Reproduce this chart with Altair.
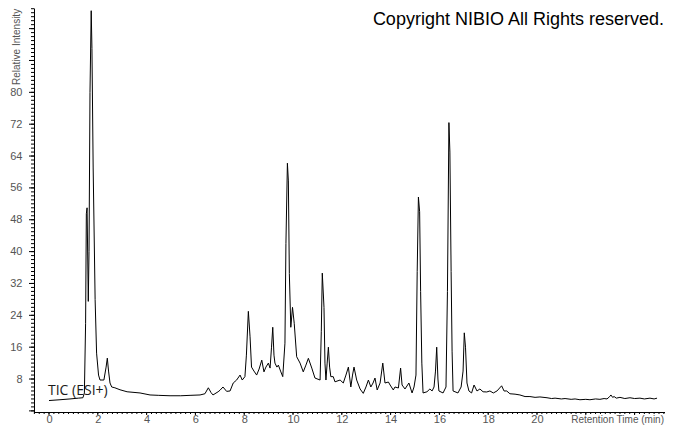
import altair as alt
import pandas as pd

# Retention time (min) and relative intensity
rt_min = [
    0.00, 0.45, 0.86, 1.20, 1.39, 1.45, 1.50, 1.53, 1.56, 1.61,
    1.64, 1.68, 1.73, 1.76, 1.81, 1.89, 1.95, 2.03, 2.09, 2.25,
    2.34, 2.39, 2.44, 2.50, 2.57, 2.70, 2.91, 3.20, 3.73, 4.14,
    4.50, 4.96, 5.40, 5.78, 6.19, 6.39, 6.53, 6.64, 6.72, 6.93,
    7.01, 7.13, 7.28, 7.42, 7.55, 7.69, 7.83, 7.92, 8.03, 8.09,
    8.17, 8.24, 8.30, 8.40, 8.51, 8.61, 8.72, 8.81, 8.89, 8.99,
    9.06, 9.12, 9.17, 9.22, 9.26, 9.34, 9.40, 9.49, 9.58, 9.67,
    9.71, 9.77, 9.81, 9.85, 9.91, 9.98, 10.05, 10.15, 10.29, 10.42,
    10.53, 10.63, 10.77, 10.90, 11.11, 11.16, 11.20, 11.27, 11.31, 11.35,
    11.40, 11.45, 11.50, 11.55, 11.65, 11.72, 11.93, 12.06, 12.17, 12.27,
    12.37, 12.44, 12.50, 12.61, 12.75, 12.88, 12.99, 13.09, 13.19, 13.28,
    13.36, 13.45, 13.57, 13.68, 13.77, 13.91, 13.98, 14.11, 14.18, 14.32,
    14.41, 14.47, 14.59, 14.75, 14.88, 14.96, 15.04, 15.09, 15.14, 15.19,
    15.23, 15.28, 15.33, 15.49, 15.61, 15.70, 15.78, 15.84, 15.89, 15.94,
    15.98, 16.15, 16.27, 16.33, 16.39, 16.43, 16.48, 16.52, 16.56, 16.76,
    16.89, 16.97, 17.02, 17.07, 17.13, 17.21, 17.32, 17.42, 17.54, 17.66,
    17.79, 17.94, 18.07, 18.21, 18.36, 18.55, 18.65, 18.76, 18.89, 19.10,
    19.30, 19.51, 19.71, 19.92, 20.12, 20.41, 20.60, 20.74, 21.00, 21.15,
    21.40, 21.56, 21.76, 22.00, 22.17, 22.40, 22.58, 22.75, 22.87, 22.98,
    23.03, 23.10, 23.16, 23.25, 23.40, 23.60, 23.81, 24.00, 24.22, 24.40,
    24.63, 24.80, 24.92,
]
intensity = [
    2.6, 2.8, 3.0, 3.2, 3.3, 4.5, 22.0, 49.5, 51.0, 27.5,
    40.0, 80.0, 100.5, 91.0, 61.0, 28.0, 14.5, 9.0, 7.75, 7.75,
    11.0, 13.25, 10.0, 7.0, 6.0, 5.8, 5.3, 4.8, 4.5, 4.0,
    3.9, 3.8, 3.8, 3.9, 4.0, 4.3, 5.8, 4.6, 4.0, 4.8,
    5.2, 6.0, 4.9, 5.0, 7.0, 7.75, 9.0, 7.75, 8.6, 14.0,
    25.0, 18.6, 11.0, 10.0, 9.0, 10.5, 12.75, 9.8, 11.0, 12.0,
    10.75, 16.0, 21.0, 14.0, 12.0, 11.0, 11.5, 10.0, 8.6, 17.0,
    42.0, 62.2, 57.75, 34.5, 21.0, 26.0, 22.0, 13.6, 12.0, 9.8,
    11.5, 13.2, 10.75, 8.25, 7.75, 20.0, 34.6, 26.0, 12.0, 7.75,
    12.0, 16.0, 11.0, 8.6, 8.6, 7.3, 7.75, 7.0, 9.0, 11.0,
    6.0, 9.0, 11.0, 7.75, 5.5, 4.4, 6.0, 7.75, 6.0, 7.0,
    8.25, 5.25, 7.0, 12.0, 7.0, 7.25, 6.5, 5.25, 6.0, 5.75,
    10.75, 6.5, 5.5, 7.0, 4.5, 6.0, 9.0, 35.0, 53.7, 50.0,
    30.0, 12.0, 4.5, 4.8, 5.5, 5.0, 6.0, 10.0, 16.0, 8.0,
    5.0, 4.5, 6.0, 30.0, 72.4, 65.0, 35.0, 15.0, 5.0, 4.5,
    6.0, 10.0, 19.6, 16.0, 7.0, 5.0, 4.5, 6.5, 5.0, 5.5,
    4.8, 4.75, 5.0, 4.5, 5.0, 6.3, 5.0, 5.0, 4.3, 4.2,
    4.0, 3.6, 3.6, 3.4, 3.5, 3.3, 3.1, 3.2, 3.0, 3.1,
    2.9, 3.0, 2.8, 2.9, 2.8, 3.0, 2.9, 3.1, 3.0, 3.6,
    4.0, 3.4, 3.6, 3.2, 3.4, 3.1, 3.3, 3.1, 3.2, 3.0,
    3.2, 3.0, 3.2,
]

# Axis labels and tick positions
x_labels = list(range(0, 21, 2))
y_labels = list(range(8, 81, 8))
x_major = list(range(0, 25, 2))
x_minor = [round(-0.6 + 0.2 * i, 1) for i in range(130)]
y_major = list(range(0, 97, 8))
y_minor = list(range(0, 102))

df = pd.DataFrame({"t": rt_min, "v": intensity})
one = pd.DataFrame({"k": [0]})

W = 631
H = 404
xs = alt.Scale(domain=[-0.615, 25.246], nice=False, zero=False)
ys = alt.Scale(domain=[-0.28, 101.18], nice=False, zero=False)

FONT = "Liberation Sans"
GREY = "#555555"

xaxis = alt.Axis(
    values=x_labels, orient="bottom", title=None, ticks=False, tickSize=0,
    labelPadding=1.5, domainColor="black", labelColor=GREY, labelFont=FONT,
    labelFontSize=11, grid=False, labelFlush=False, labelOverlap=False)
yaxis = alt.Axis(
    values=y_labels, orient="left", title=None, ticks=False, tickSize=0,
    labelPadding=12, domainColor="black", labelColor=GREY, labelFont=FONT,
    labelFontSize=11, grid=False, labelOverlap=False)

trace = alt.Chart(df).mark_line(color="black", strokeWidth=1).encode(
    x=alt.X("t:Q", scale=xs, axis=xaxis),
    y=alt.Y("v:Q", scale=ys, axis=yaxis),
)

x_minor_ticks = alt.Chart(pd.DataFrame({"t": x_minor})).mark_rule(
    color="black", strokeWidth=1
).encode(x=alt.X("t:Q", scale=xs, axis=xaxis), y=alt.value(H), y2=alt.value(H + 2))

x_major_ticks = alt.Chart(pd.DataFrame({"t": x_major})).mark_rule(
    color="black", strokeWidth=1
).encode(x=alt.X("t:Q", scale=xs, axis=xaxis), y=alt.value(H), y2=alt.value(H + 3))

y_minor_ticks = alt.Chart(pd.DataFrame({"v": y_minor})).mark_rule(
    color="black", strokeWidth=1
).encode(y=alt.Y("v:Q", scale=ys, axis=yaxis), x=alt.value(-3), x2=alt.value(0))

y_major_ticks = alt.Chart(pd.DataFrame({"v": y_major})).mark_rule(
    color="black", strokeWidth=1
).encode(y=alt.Y("v:Q", scale=ys, axis=yaxis), x=alt.value(-5), x2=alt.value(0))

copyright_txt = alt.Chart(one).mark_text(
    text="Copyright NIBIO All Rights reserved.", font=FONT, fontSize=18,
    color="black", align="right", baseline="alphabetic",
).encode(x=alt.value(630), y=alt.value(16.5))

x_title = alt.Chart(one).mark_text(
    text="Retention Time (min)", font=FONT, fontSize=10, color=GREY,
    align="right", baseline="middle",
).encode(x=alt.value(630), y=alt.value(411.5))

y_title = alt.Chart(one).mark_text(
    text="Relative Intensity", font=FONT, fontSize=10, color=GREY,
    align="left", baseline="middle", angle=270,
).encode(x=alt.value(-17), y=alt.value(77))

tic_txt = alt.Chart(one).mark_text(
    text="TIC (ESI+)", font="Open Sans", fontSize=14, color="#1a1a1a",
    align="left", baseline="middle",
).encode(x=alt.value(14), y=alt.value(383))

chart = alt.layer(
    trace, x_minor_ticks, x_major_ticks, y_minor_ticks, y_major_ticks,
    copyright_txt, x_title, y_title, tic_txt,
).properties(
    width=W, height=H,
    padding={"left": 26, "top": 0, "right": 0, "bottom": 13},
    autosize=alt.AutoSizeParams(type="none"),
    background="white",
).configure_view(stroke=None)

chart.save("out.html", embed_options={"renderer": "svg", "actions": False})
